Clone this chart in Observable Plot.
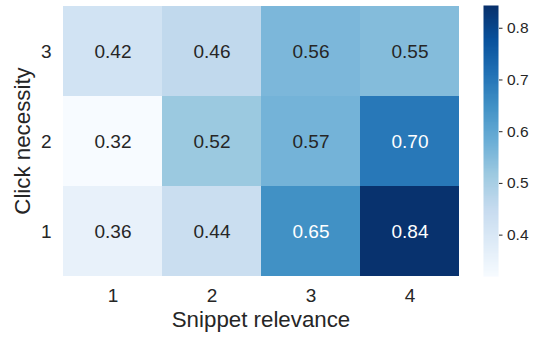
<!DOCTYPE html>
<html>
<head>
<meta charset="utf-8">
<script src="https://cdn.jsdelivr.net/npm/d3@7"></script>
<script src="https://cdn.jsdelivr.net/npm/@observablehq/plot@0.6"></script>
<style>
  html, body { margin: 0; padding: 0; background: white; }
  #wrap { position: relative; width: 537px; height: 337px; }
  #wrap svg { position: absolute; left: 0; top: 0; }
</style>
</head>
<body>
<div id="wrap"></div>
<script>
// ---- data ----
const snippetRelevance = [1, 2, 3, 4];          // x categories
const clickNecessity = [3, 2, 1];               // y categories (top to bottom)
const row3Values = [0.42, 0.46, 0.56, 0.55];    // click necessity = 3
const row2Values = [0.32, 0.52, 0.57, 0.70];    // click necessity = 2
const row1Values = [0.36, 0.44, 0.65, 0.84];    // click necessity = 1
const colorbarTicks = [0.4, 0.5, 0.6, 0.7, 0.8];
const xLabel = "Snippet relevance";
const yLabel = "Click necessity";

const rows = {3: row3Values, 2: row2Values, 1: row1Values};
const data = [];
for (const n of clickNecessity) {
  snippetRelevance.forEach((s, i) => data.push({snippet: s, necessity: n, value: rows[n][i]}));
}

const vmin = 0.32, vmax = 0.844;
const blues9 = ["#f7fbff","#deebf7","#c6dbef","#9ecae1","#6baed6","#4292c6","#2171b5","#08519c","#08306b"];
const stops = blues9.map((_, i) => vmin + (vmax - vmin) * i / (blues9.length - 1));
const colorScale = {type: "linear", domain: stops, range: blues9, interpolate: "rgb"};

const font = "'Liberation Sans', Arial, 'DejaVu Sans', sans-serif";
const ink = "#262626";
const fs = 19;

const main = Plot.plot({
  width: 537, height: 337,
  marginLeft: 61, marginRight: 77, marginTop: 5, marginBottom: 61,
  x: {type: "band", domain: snippetRelevance, padding: 0},
  y: {type: "band", domain: clickNecessity, padding: 0},
  color: colorScale,
  style: {fontFamily: font, fontSize: fs + "px", color: ink, background: "white"},
  marks: [
    Plot.cell(data, {x: "snippet", y: "necessity", fill: "value"}),
    Plot.text(data, {filter: d => d.value < 0.6, x: "snippet", y: "necessity", text: d => d.value.toFixed(2), fill: ink, fontSize: fs}),
    Plot.text(data, {filter: d => d.value >= 0.6, x: "snippet", y: "necessity", text: d => d.value.toFixed(2), fill: "white", fontSize: fs}),
    Plot.axisX({tickSize: 0, tickPadding: 12, label: null, fontSize: fs, fill: ink}),
    Plot.axisY({tickSize: 0, tickPadding: 10, label: null, fontSize: fs, fill: ink}),
    Plot.text([xLabel], {text: d => d, frameAnchor: "bottom", dy: 43, lineAnchor: "middle", fontSize: 22.3, fill: ink}),
    Plot.text([yLabel], {text: d => d, frameAnchor: "left", dx: -38.5, rotate: -90, textAnchor: "middle", lineAnchor: "middle", fontSize: 22.3, fill: ink})
  ]
});

const bar = Plot.plot({
  width: 537, height: 337,
  marginLeft: 483, marginRight: 39, marginTop: 5, marginBottom: 61,
  x: {domain: [0, 1], axis: null},
  y: {domain: [vmin, vmax]},
  color: colorScale,
  style: {fontFamily: font, fontSize: "15.5px", color: ink, background: "transparent"},
  marks: [
    Plot.raster({x1: 0, x2: 1, y1: vmin, y2: vmax, width: 1, height: 300, fill: (x, y) => y}),
    Plot.axisY({anchor: "right", ticks: colorbarTicks, tickFormat: ".1f", tickSize: 3.5, tickPadding: 5, label: null, fontSize: 15.5, stroke: ink, fill: ink})
  ]
});

document.getElementById("wrap").append(main, bar);
</script>
</body>
</html>
